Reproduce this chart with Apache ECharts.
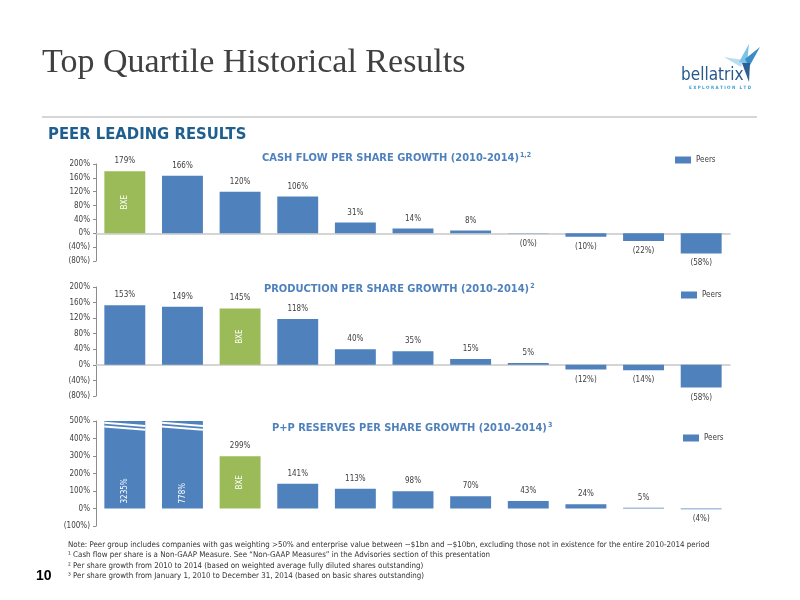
<!DOCTYPE html>
<html>
<head>
<meta charset="utf-8">
<script src="https://cdn.jsdelivr.net/npm/echarts@6/dist/echarts.min.js"></script>
<style>
html,body{margin:0;padding:0;background:#fff;}
#c{width:800px;height:600px;}
</style>
</head>
<body>
<div id="c"></div>
<script>
// ---- data ----
const ranks = ['1','2','3','4','5','6','7','8','9','10','11'];
const cashFlowValues = [179, 166, 120, 106, 31, 14, 8, -0.4, -10, -22, -58];
const cashFlowBxeIndex = 0;
const productionValues = [153, 149, 145, 118, 40, 35, 15, 5, -12, -14, -58];
const productionBxeIndex = 2;
const reservesValues = [3235, 778, 299, 141, 113, 98, 70, 43, 24, 5, -4];
const reservesBxeIndex = 2;
const reservesBrokenIndices = [0, 1];
const reservesBreakLevels = [[490, 472], [468, 450]];
const chartTitles = [
  ['CASH FLOW PER SHARE GROWTH (2010-2014)', '1,2'],
  ['PRODUCTION PER SHARE GROWTH (2010-2014)', '2'],
  ['P+P RESERVES PER SHARE GROWTH (2010-2014)', '3']
];
const axisRanges = [[-80, 200, 40], [-80, 200, 40], [-100, 500, 100]];
const legendName = 'Peers';
const bxeLabel = 'BXE';
const footnotes = [
  'Note: Peer group includes companies with gas weighting >50% and enterprise value between ~$1bn and ~$10bn, excluding those not in existence for the entire 2010-2014 period',
  '\u00B9 Cash flow per share is a Non-GAAP Measure. See \u201CNon-GAAP Measures\u201D in the Advisories section of this presentation',
  '\u00B2 Per share growth from 2010 to 2014 (based on weighted average fully diluted shares outstanding)',
  '\u00B3 Per share growth from January 1, 2010 to December 31, 2014 (based on basic shares outstanding)'
];

// ---- styles ----
const BLUE = '#4f81bd', GREEN = '#9bbb59', TXT = '#404040';
const NARROW = "'Liberation Sans Narrow','DejaVu Sans Condensed','Noto Sans',sans-serif";
const pct = v => v < 0 ? '(' + Math.round(-v) + '%)' : Math.round(v) + '%';

const grids = [
  {left: 96, top: 164, width: 634, height: 97},
  {left: 96, top: 287, width: 634, height: 109},
  {left: 96, top: 421, width: 634, height: 105}
];
const titlePos = [[262, 152], [264, 283], [272, 422]];
const legendPos = [[675, 156], [681, 291], [683, 434]];
const datasets = [
  {values: cashFlowValues, bxe: cashFlowBxeIndex, broken: []},
  {values: productionValues, bxe: productionBxeIndex, broken: []},
  {values: reservesValues, bxe: reservesBxeIndex, broken: reservesBrokenIndices}
];

const xAxis = [], yAxis = [], series = [], title = [], legend = [];
datasets.forEach((d, i) => {
  xAxis.push({
    type: 'category', gridIndex: i, data: ranks,
    axisLabel: {show: false}, axisTick: {show: false},
    offset: 11,
    axisLine: {show: i < 2, lineStyle: {color: '#c8c8c8', width: 1.5}}
  });
  yAxis.push({
    type: 'value', gridIndex: i,
    min: axisRanges[i][0], max: axisRanges[i][1], interval: axisRanges[i][2],
    splitLine: {show: false},
    axisLine: {show: true, lineStyle: {color: '#8c8c8c'}},
    axisTick: {show: true, length: 3, lineStyle: {color: '#8c8c8c'}},
    axisLabel: {formatter: pct, fontSize: 8, color: TXT, margin: 6, fontFamily: NARROW}
  });
  series.push({
    name: legendName, type: 'bar', xAxisIndex: i, yAxisIndex: i,
    barWidth: '71%', clip: true, z: 2,
    itemStyle: {color: BLUE},
    data: d.values.map((v, k) => {
      const item = {value: v};
      if (k === d.bxe) item.itemStyle = {color: GREEN};
      if (d.broken.indexOf(k) >= 0) {
        item.label = {position: 'insideBottom', rotate: 90, align: 'left', verticalAlign: 'middle',
          color: '#fff', distance: 5};
      } else {
        item.label = {position: v < 0 ? 'bottom' : 'top'};
      }
      return item;
    }),
    label: {show: true, formatter: p => pct(p.value), fontSize: 8, color: TXT, distance: 6, fontFamily: NARROW}
  });
  series.push({
    name: bxeLabel, type: 'bar', xAxisIndex: i, yAxisIndex: i,
    barWidth: '71%', barGap: '-100%', silent: true, z: 3,
    itemStyle: {color: 'rgba(0,0,0,0)'},
    data: d.values.map((v, k) => k === d.bxe ? v : '-'),
    label: {show: true, position: 'inside', rotate: 90, formatter: bxeLabel, color: '#fff', fontSize: 8, fontFamily: NARROW}
  });
  if (d.broken.length) {
    series.push({
      name: 'breaks', type: 'custom', xAxisIndex: i, yAxisIndex: i, silent: true, clip: false, z: 10,
      data: d.broken.map(k => [k, reservesBreakLevels[0][0]]),
      encode: {x: 0, y: 1},
      renderItem: (params, api) => {
        const idx = api.value(0);
        const c = api.coord([idx, 0]);
        const w = api.size([1, 0])[0] * 0.71;
        const x0 = c[0] - w / 2, x1 = c[0] + w / 2;
        return {
          type: 'group',
          children: reservesBreakLevels.map(lv => ({
            type: 'line', z2: 100,
            shape: {x1: x0, y1: api.coord([idx, lv[0]])[1], x2: x1, y2: api.coord([idx, lv[1]])[1]},
            style: {stroke: '#ffffff', lineWidth: 2}
          }))
        };
      }
    });
  }
  title.push({
    text: '{t|' + chartTitles[i][0] + '}{s|' + chartTitles[i][1] + '}',
    left: titlePos[i][0], top: titlePos[i][1], padding: 0,
    textStyle: {rich: {
      t: {fontSize: 11, fontWeight: 'bold', color: BLUE, fontFamily: NARROW},
      s: {fontSize: 7, fontWeight: 'bold', color: BLUE, fontFamily: NARROW, verticalAlign: 'top', padding: [0, 0, 5, 1]}
    }}
  });
  legend.push({
    data: [legendName], left: legendPos[i][0], top: legendPos[i][1], padding: 0,
    icon: 'rect', itemWidth: 16, itemHeight: 7, itemGap: 4,
    textStyle: {fontSize: 8, color: TXT, fontFamily: NARROW}
  });
});

const graphic = [
  {type: 'text', left: 42, top: 46, style: {text: 'Top Quartile Historical Results', fontSize: 34,
    fontFamily: "'Liberation Serif','DejaVu Serif',serif", fill: '#404040'}},
  {type: 'line', shape: {x1: 42, y1: 117, x2: 757, y2: 117}, style: {stroke: '#c8c8c8', lineWidth: 1.5}},
  {type: 'text', left: 48, top: 126, style: {text: 'PEER LEADING RESULTS', fontSize: 16.5, fontWeight: 'bold',
    fontFamily: NARROW, fill: '#1f5f8f'}},
  // logo
  {type: 'polygon', shape: {points: [[724, 57], [743, 60], [741, 67]]}, style: {fill: '#b9ddf1'}},
  {type: 'polygon', shape: {points: [[739, 62], [749, 44], [747, 64]]}, style: {fill: '#7cc3e8'}},
  {type: 'polygon', shape: {points: [[745, 59], [760, 47], [749, 67]]}, style: {fill: '#3b8cc6'}},
  {type: 'polygon', shape: {points: [[742, 63], [750, 63], [749, 82]]}, style: {fill: '#2b5f95'}},
  {type: 'text', left: 681, top: 67, style: {text: 'bellatrix', fontSize: 17, fontFamily: NARROW, fill: '#27588c'}},
  {type: 'text', left: 689, top: 85, style: {text: 'E X P L O R A T I O N   L T D', fontSize: 4.5, fontWeight: 'bold', fontFamily: NARROW, fill: '#3aa0d0'}},
  {type: 'text', left: 36, top: 569, style: {text: '10', fontSize: 14, fontWeight: 'bold', fontFamily: "'Liberation Sans',sans-serif", fill: '#000'}}
];
footnotes.forEach((f, k) => {
  graphic.push({type: 'text', left: 68, top: 541 + k * 10.4, style: {text: f, fontSize: 7.9, fontFamily: NARROW, fill: '#333'}});
});

const chart = echarts.init(document.getElementById('c'), null, {renderer: 'canvas'});
chart.setOption({
  animation: false,
  grid: grids, xAxis, yAxis, series, title, legend, graphic
});
</script>
</body>
</html>
